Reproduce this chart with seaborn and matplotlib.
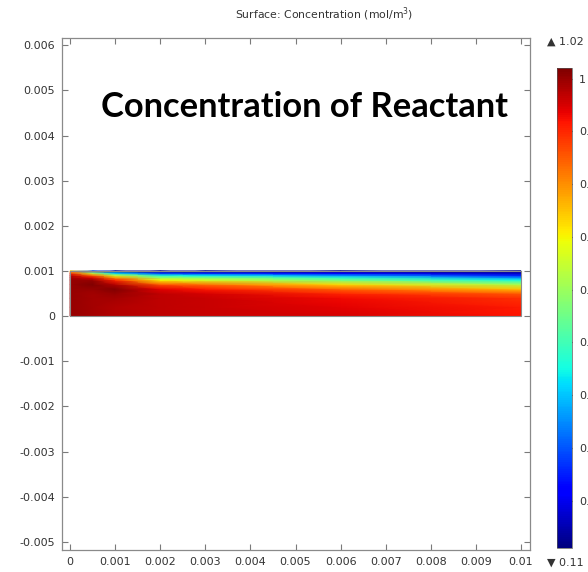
import numpy as np
import pandas as pd
import matplotlib
matplotlib.use("Agg")
import matplotlib.pyplot as plt
import seaborn as sns
from matplotlib.patches import Rectangle

# Sample positions inside the channel (m)
x_pos = [0.0, 0.0005, 0.001, 0.002, 0.003, 0.006, 0.01]
y_pos = [0.0, 0.0002, 0.0004, 0.0005, 0.0006, 0.0007, 0.0008, 0.00085, 0.0009, 0.00095, 0.001]

# Concentration (mol/m^3) at each x station, listed from bottom wall to top wall
conc_x0000 = [1.00, 1.00, 1.00, 1.00, 1.00, 1.00, 1.00, 0.99, 0.97, 0.90, 0.72]
conc_x0005 = [0.99, 0.99, 0.99, 0.99, 1.00, 1.02, 1.00, 0.95, 0.85, 0.65, 0.30]
conc_x0010 = [0.98, 0.98, 0.99, 1.00, 1.02, 0.98, 0.90, 0.80, 0.66, 0.42, 0.13]
conc_x0020 = [0.97, 0.97, 0.97, 0.97, 0.94, 0.86, 0.70, 0.60, 0.47, 0.28, 0.12]
conc_x0030 = [0.96, 0.96, 0.96, 0.95, 0.91, 0.83, 0.66, 0.58, 0.44, 0.26, 0.12]
conc_x0060 = [0.95, 0.94, 0.93, 0.90, 0.84, 0.73, 0.56, 0.48, 0.36, 0.22, 0.11]
conc_x0100 = [0.92, 0.91, 0.89, 0.85, 0.75, 0.62, 0.45, 0.36, 0.25, 0.17, 0.11]

c_min, c_max = 0.11, 1.02

x_ticks = [0, 0.001, 0.002, 0.003, 0.004, 0.005, 0.006, 0.007, 0.008, 0.009, 0.01]
x_labels = ["0", "0.001", "0.002", "0.003", "0.004", "0.005", "0.006", "0.007",
            "0.008", "0.009", "0.01"]
y_ticks = [-0.005, -0.004, -0.003, -0.002, -0.001, 0, 0.001, 0.002, 0.003,
           0.004, 0.005, 0.006]
y_labels = ["-0.005", "-0.004", "-0.003", "-0.002", "-0.001", "0", "0.001",
            "0.002", "0.003", "0.004", "0.005", "0.006"]
cbar_ticks = [0.2, 0.3, 0.4, 0.5, 0.6, 0.7, 0.8, 0.9, 1.0]
cbar_labels = ["0.2", "0.3", "0.4", "0.5", "0.6", "0.7", "0.8", "0.9", "1"]

title_text = "Surface: Concentration (mol/m$^3$)"
heading_text = "Concentration of Reactant"

sns.set_theme(style="ticks")
plt.rcParams["font.family"] = ["DejaVu Sans"]
plt.rcParams["axes.unicode_minus"] = False

field = pd.DataFrame(
    np.column_stack([conc_x0000, conc_x0005, conc_x0010, conc_x0020,
                     conc_x0030, conc_x0060, conc_x0100]),
    index=y_pos, columns=x_pos)

fig = plt.figure(figsize=(5.88, 5.72), dpi=100)
ax = fig.add_axes([62 / 588, 22 / 572, 468 / 588, 512 / 572])

X, Y = np.meshgrid(field.columns.values, field.index.values)
mesh = ax.pcolormesh(X, Y, field.values, shading="gouraud", cmap="jet",
                     vmin=c_min, vmax=c_max)
ax.add_patch(Rectangle((min(x_pos), min(y_pos)), max(x_pos) - min(x_pos),
                       max(y_pos) - min(y_pos), fill=False,
                       edgecolor="#8a8a8a", linewidth=0.8))

ax.set_xlim(-0.00018, 0.0102)
ax.set_ylim(-0.00518, 0.00616)
ax.set_xticks(x_ticks)
ax.set_xticklabels(x_labels)
ax.set_yticks(y_ticks)
ax.set_yticklabels(y_labels)
ax.tick_params(direction="in", length=4, width=0.8, color="#7a7a7a",
               labelsize=8, labelcolor="#333333", top=True, right=True)
ax.tick_params(axis="y", pad=5)
ax.tick_params(axis="x", pad=5)
for sp in ax.spines.values():
    sp.set_color("#8a8a8a")
    sp.set_linewidth(0.9)
ax.set_facecolor("white")

ax.text(0.0052, 0.00464, heading_text, ha="center", va="center",
        fontsize=24.8, fontweight="bold", family="Lato", color="black")

fig.text(324 / 588, 1 - 14 / 572, title_text, ha="center", va="center",
         fontsize=7.8, color="#333333")

cax = fig.add_axes([557 / 588, 24 / 572, 15 / 588, 480 / 572])
cbar = fig.colorbar(mesh, cax=cax, ticks=cbar_ticks)
cbar.set_ticklabels(cbar_labels)
cbar.outline.set_linewidth(0.5)
cbar.outline.set_edgecolor("#555555")
cax.tick_params(direction="in", length=3, width=0.8, color="#333333",
                labelsize=8, labelcolor="#333333", pad=5)

fig.text(547 / 588, 1 - 42 / 572, "\u25B2 1.02", ha="left", va="center",
         fontsize=8, color="#333333")
fig.text(547 / 588, 1 - 563 / 572, "\u25BC 0.11", ha="left", va="center",
         fontsize=8, color="#333333")

fig.savefig("out.png", dpi=100, facecolor="white")
